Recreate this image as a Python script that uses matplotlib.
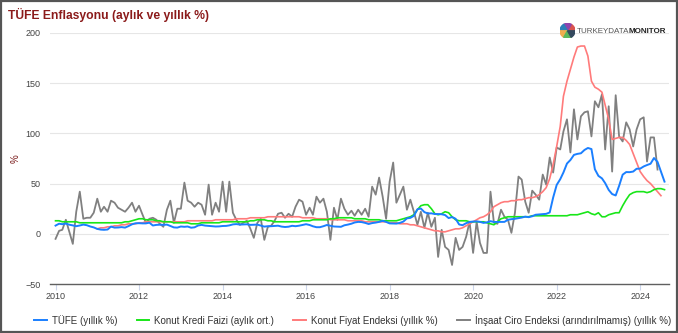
import numpy as np
import pandas as pd
import matplotlib
matplotlib.use("Agg")
import matplotlib.pyplot as plt
import matplotlib.dates as mdates
from matplotlib.patches import Rectangle, Wedge

plt.rcParams["font.family"] = ["Liberation Sans", "DejaVu Sans"]

# ===============================
# Data (monthly)
# ===============================
tufe = [
    8.2, 10.1, 9.6, 10.2, 9.1, 8.4, 7.6, 8.3, 9.2, 8.6, 7.3, 6.4,
    4.9, 4.2, 4.0, 4.3, 7.2, 6.2, 6.3, 6.7, 6.2, 7.7, 9.5, 10.5,
    10.6, 10.4, 10.4, 11.1, 8.3, 8.9, 9.1, 8.9, 9.2, 7.8, 6.4, 6.2,
    7.3, 7.0, 7.3, 6.1, 6.5, 8.3, 8.9, 8.2, 7.9, 7.7, 7.3, 7.4,
    7.8, 7.9, 8.4, 9.4, 9.7, 9.2, 9.3, 9.5, 8.9, 9.0, 9.2, 8.2,
    7.2, 7.6, 7.6, 7.9, 8.1, 7.2, 6.8, 7.1, 8.0, 7.6, 8.1, 8.8,
    9.6, 8.8, 7.5, 6.6, 6.6, 7.6, 8.8, 8.1, 7.3, 7.2, 7.0, 8.5,
    9.2, 10.1, 11.3, 11.9, 11.7, 10.9, 9.8, 10.7, 11.2, 11.9, 13.0, 11.9,
    10.4, 10.3, 10.2, 10.9, 12.2, 15.4, 15.9, 17.9, 24.5, 25.2, 21.6, 20.3,
    20.4, 19.7, 19.7, 19.5, 18.7, 15.7, 16.7, 15.0, 9.3, 8.6, 10.6, 11.8,
    12.2, 12.4, 11.9, 10.9, 11.4, 12.6, 11.8, 11.8, 11.8, 11.9, 14.0, 14.6,
    15.0, 15.6, 16.2, 17.1, 16.6, 17.5, 19.0, 19.3, 19.6, 19.9, 21.3, 36.1,
    48.7, 54.4, 61.1, 70.0, 73.5, 78.6, 79.6, 80.2, 83.5, 85.5, 84.4, 64.3,
    57.7, 55.2, 50.5, 43.7, 39.6, 38.2, 47.8, 58.9, 61.5, 61.4, 62.0, 64.8,
    64.9, 67.1, 68.5, 69.8, 75.5, 71.6, 61.8, 52.0,
]

kredi = [
    13, 13, 12, 12, 12, 12, 12, 11, 11, 11, 11, 11,
    11, 11, 11, 11, 11, 11, 11, 11, 12, 12, 13, 14,
    15, 15, 14, 14, 14, 13, 13, 12, 12, 12, 11, 11,
    11, 11, 11, 10, 10, 10, 11, 11, 11, 11, 11, 11,
    12, 12, 12, 12, 12, 12, 12, 12, 13, 13, 14, 14,
    14, 13, 13, 12, 12, 12, 12, 12, 12, 12, 12, 13,
    13, 13, 14, 14, 14, 14, 14, 15, 15, 16, 16, 16,
    16, 16, 15, 15, 15, 15, 14, 14, 14, 14, 13, 13,
    13, 13, 13, 14, 15, 16, 17, 19, 24, 28, 29, 29,
    25, 20, 19, 20, 22, 21, 17, 14, 13, 13, 13, 12,
    12, 12, 12, 12, 11, 10, 9, 12, 15, 16, 17, 17,
    17, 17, 17, 17, 17, 18, 18, 18, 18, 18, 18, 18,
    18, 18, 18, 18, 19, 19, 19, 20, 21, 22, 20, 19,
    21, 17, 17, 19, 20, 21, 21, 28, 34, 39, 41, 42,
    42, 42, 41, 42, 44, 45, 45, 44,
]

# starts Jan 2011
kfe = [
    5, 6, 6, 7, 7, 8, 8, 9, 9, 10, 10, 10,
    11, 11, 12, 12, 12, 12, 12, 12, 12, 12, 12, 12,
    12, 12, 13, 13, 13, 13, 13, 13, 13, 13, 14, 14,
    14, 14, 14, 14, 15, 15, 15, 15, 16, 16, 16, 16,
    16, 17, 17, 17, 17, 17, 17, 17, 17, 17, 17, 16,
    16, 16, 16, 15, 15, 15, 15, 14, 14, 14, 14, 14,
    13, 13, 13, 13, 13, 12, 12, 12, 12, 12, 12, 12,
    11, 11, 11, 10, 10, 10, 9, 9, 8, 7, 6, 5,
    4, 3, 3, 2, 2, 3, 4, 5, 5, 6, 8, 10,
    12, 14, 16, 17, 19, 22, 27, 29, 31, 32, 32, 33,
    33, 34, 34, 35, 36, 36, 37, 39, 42, 46, 55, 69,
    87, 107, 137, 152, 164, 176, 186, 187, 187, 177, 152, 146,
    144, 141, 128, 114, 94, 95, 96, 96, 93, 89, 80, 71,
    62, 57, 53, 50, 46, 42, 38,
]

insaat = [
    -5, 3, 4, 14, 2, -10, 22, 42, 15, 16, 16, 21,
    35, 22, 27, 22, 33, 31, 26, 24, 22, 26, 31, 22,
    28, 19, 11, 15, 16, 14, 10, 7, 24, 33, 11, 25,
    25, 51, 33, 31, 27, 31, 29, 19, 49, 19, 31, 22,
    52, 22, 52, 21, 14, 9, 11, 13, 5, -4, 11, 15,
    -6, 7, 8, 13, 20, 21, 16, 20, 17, 27, 34, 32,
    19, 26, 19, 37, 31, 35, 22, -6, 26, 14, 35, 25,
    19, 23, 18, 24, 19, 25, 17, 47, 39, 56, 37, 15,
    52, 71, 31, 39, 47, 24, 34, 22, 9, 22, 6, 21,
    7, 16, -23, 4, -13, -16, -31, -4, -16, -13, -3, 12,
    -19, 12, -9, -19, -19, 42, 11, 10, 24, 17, 14, 1,
    21, 57, 54, 32, 21, 43, 39, 34, 59, 49, 76, 61,
    86, 84, 102, 114, 81, 124, 94, 117, 121, 122, 97, 132,
    126, 139, 84, 127, 62, 138, 97, 92, 111, 104, 87, 104,
    114, 116, 72, 96, 96, 64,
]

labels = [
    "TÜFE (yıllık %)",
    "Konut Kredi Faizi (aylık ort.)",
    "Konut Fiyat Endeksi (yıllık %)",
    "İnşaat Ciro Endeksi (arındırılmamış) (yıllık %)",
]
colors = ["#1a7fff", "#19e619", "#ff7b7b", "#808080"]

d_tufe = pd.date_range("2010-01-01", periods=len(tufe), freq="MS")
d_kredi = pd.date_range("2010-01-01", periods=len(kredi), freq="MS")
d_kfe = pd.date_range("2011-01-01", periods=len(kfe), freq="MS")
d_insaat = pd.date_range("2010-01-01", periods=len(insaat), freq="MS")

# ===============================
# Chart
# ===============================
fig = plt.figure(figsize=(6.78, 3.33), dpi=100)
ax = fig.add_axes([0.074, 0.147, 0.912, 0.754])

ax.plot(d_insaat, insaat, color=colors[3], lw=1.3, zorder=2)
ax.plot(d_kfe, kfe, color=colors[2], lw=1.2, zorder=3)
ax.plot(d_kredi, kredi, color=colors[1], lw=1.2, zorder=4)
ax.plot(d_tufe, tufe, color=colors[0], lw=1.4, zorder=5)

ax.set_ylim(-50, 200)
ax.set_yticks([-50, 0, 50, 100, 150, 200])
ax.set_xlim(pd.Timestamp("2009-11-15"), pd.Timestamp("2024-09-05"))
ax.xaxis.set_major_locator(mdates.YearLocator(2))
ax.xaxis.set_major_formatter(mdates.DateFormatter("%Y"))

ax.grid(axis="y", color="#e6e6e6", lw=0.8)
ax.set_axisbelow(True)
for s in ["top", "right", "left"]:
    ax.spines[s].set_visible(False)
ax.spines["bottom"].set_color("#606060")
ax.spines["bottom"].set_linewidth(1.0)
ax.tick_params(axis="y", length=0, labelsize=6.5, labelcolor="#444444", pad=7)
ax.tick_params(axis="x", length=4, color="#ccd6eb", labelsize=6.5, labelcolor="#444444", pad=2)
ax.set_ylabel("%", fontsize=7, color="#7a1a1a", labelpad=3)

fig.text(0.012, 0.955, "TÜFE Enflasyonu (aylık ve yıllık %)", fontsize=8.7,
         fontweight="bold", color="#8b1a1a", ha="left", va="center")

# Logo
logo_ax = fig.add_axes([0.826, 0.885, 0.022, 0.045])
logo_ax.set_xlim(-1, 1)
logo_ax.set_ylim(-1, 1)
logo_ax.set_aspect("equal")
logo_ax.axis("off")
for i, c in enumerate(["#d9534f", "#8e44ad", "#2c7fb8", "#f0ad4e", "#5cb85c", "#34495e"]):
    logo_ax.add_patch(Wedge((0, 0), 1, i * 60, (i + 1) * 60, color=c))
t1 = fig.text(0.85, 0.906, "TURKEYDATA", fontsize=5.8, color="#555555", ha="left", va="center")
fig.draw_without_rendering()
fig.text(0.0, 0.0, "MONITOR", fontsize=5.8, color="#222222", fontweight="bold",
         ha="left", va="center", transform=fig.transFigure).set_position(
    (t1.get_window_extent().x1 / fig.bbox.width, 0.906))

handles = [plt.Line2D([], [], color=c, lw=1.4) for c in colors]
fig.legend(handles, labels, loc="center", bbox_to_anchor=(0.52, 0.04), ncol=4,
           frameon=False, fontsize=7, handlelength=1.3, handletextpad=0.5,
           columnspacing=2.0, labelcolor="#333333")

fig.patches.append(Rectangle((0.002, 0.003), 0.996, 0.994, transform=fig.transFigure,
                             fill=False, edgecolor="#555555", lw=1.6))

plt.savefig("out.png", dpi=100)
plt.close()
